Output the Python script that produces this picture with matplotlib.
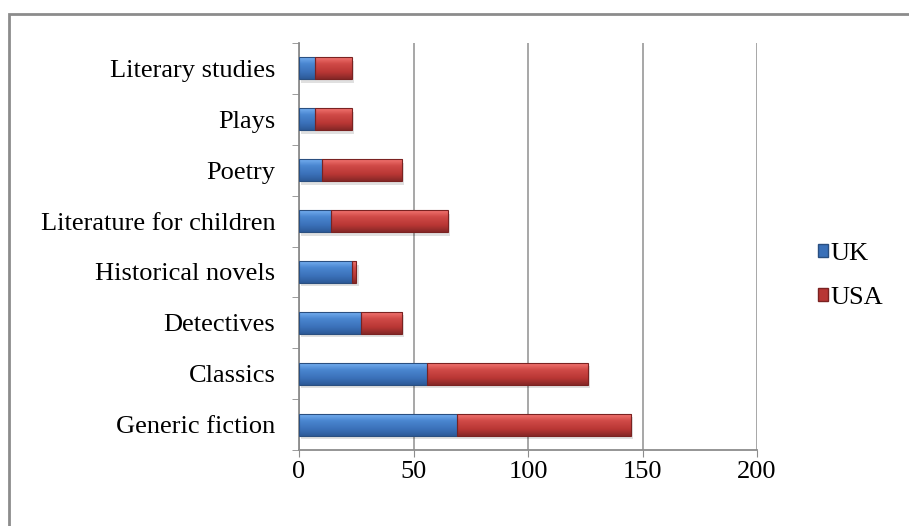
import matplotlib.pyplot as plt
import numpy as np
from matplotlib.colors import to_rgb
from matplotlib.patches import Rectangle

categories = ["Generic fiction", "Classics", "Detectives", "Historical novels",
              "Literature for children", "Poetry", "Plays", "Literary studies"]
uk = [69, 56, 27, 23, 14, 10, 7, 7]
usa = [76, 70, 18, 2, 51, 35, 16, 16]

plt.rcParams["font.family"] = ["Liberation Serif", "DejaVu Serif"]

fig = plt.figure(figsize=(9.09, 5.26), dpi=100)
ax = fig.add_axes([299 / 909, 1 - 450 / 526, 458 / 909, 407 / 526])

# outer chart border (only left/top visible in the picture)
fig.patches.append(Rectangle((9 / 909, -0.1), 1.2, 1 - 14 / 526 + 0.1,
                             transform=fig.transFigure, fill=False,
                             edgecolor="#8c8c8c", linewidth=2))

y = np.arange(len(categories))
h = 0.43
blue = ["#74aef0", "#4a86d0", "#3a70b8", "#2d5a98"]
red = ["#f27470", "#d04a47", "#b83634", "#862827"]


def gradient(stops, n=40):
    cols = np.array([to_rgb(c) for c in stops])
    pos = np.array([0.0, 0.3, 0.7, 1.0])
    t = np.linspace(0, 1, n)
    img = np.stack([np.interp(t, pos, cols[:, k]) for k in range(3)], axis=1)
    return img[:, None, :]


def bevel_bars(left, width, stops, edge):
    img = gradient(stops)
    for yi, l, w in zip(y, left, width):
        # soft shadow
        ax.add_patch(Rectangle((l + 1.0, yi - h / 2 - 0.07), w, h,
                               color="black", alpha=0.12, lw=0, zorder=2))
        ax.imshow(img, extent=(l, l + w, yi - h / 2, yi + h / 2),
                  aspect="auto", origin="upper", zorder=3, interpolation="bilinear")
        ax.add_patch(Rectangle((l, yi - h / 2), w, h, fill=False,
                               edgecolor=edge, lw=0.8, zorder=4))


bevel_bars(np.zeros(len(uk)), uk, blue, "#2a4f80")
bevel_bars(np.array(uk), usa, red, "#7a2221")

ax.set_xlim(0, 200)
ax.set_ylim(-0.5, len(categories) - 0.5)
ax.set_xticks([0, 50, 100, 150, 200])
ax.set_xticklabels(["0", "50", "100", "150", "200"], fontsize=19)
ax.set_yticks(y)
ax.set_yticklabels(categories, fontsize=19)
ax.set_yticks(np.arange(-0.5, len(categories)), minor=True)
ax.tick_params(axis="y", which="major", length=0, pad=17)
ax.tick_params(axis="y", which="minor", length=5, color="#8c8c8c", direction="out")
ax.tick_params(axis="x", length=5, color="#8c8c8c", direction="out", pad=3)

ax.grid(axis="x", color="#a0a0a0", linewidth=1.3, zorder=0)
ax.set_axisbelow(True)
for s in ["top", "right"]:
    ax.spines[s].set_visible(False)
for s in ["left", "bottom"]:
    ax.spines[s].set_color("#8c8c8c")
    ax.spines[s].set_linewidth(1.3)

handles = [Rectangle((0, 0), 1, 1, facecolor=blue[2], edgecolor="#2a4f80"),
           Rectangle((0, 0), 1, 1, facecolor=red[2], edgecolor="#7a2221")]
fig.legend(handles, ["UK", "USA"], loc="center left",
           bbox_to_anchor=(794 / 909, 1 - 276 / 526), frameon=False,
           fontsize=19, handlelength=0.38, handleheight=0.38,
           handletextpad=0.1, labelspacing=0.85)

fig.savefig("out.png", dpi=100)
